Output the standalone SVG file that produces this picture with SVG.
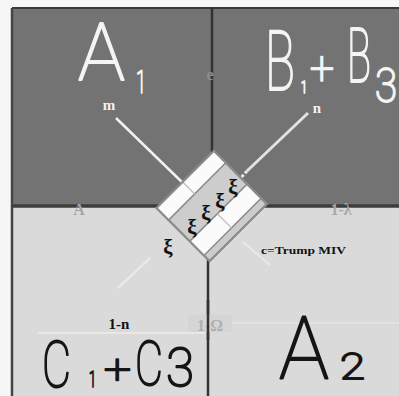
<svg xmlns="http://www.w3.org/2000/svg" width="399" height="396" viewBox="0 0 399 396">
<style>
.hw{font-family:Roboto,"Liberation Sans",sans-serif;font-weight:100;stroke-width:2;stroke-linejoin:round}
.hww{fill:#f4f4f4;stroke:#f4f4f4}
.hwb{fill:#151515;stroke:#151515}
.lbl{font-family:"Liberation Serif",serif;font-weight:bold}
.faint{font-family:"Liberation Serif",serif;font-weight:bold;font-size:16px}
.xi{font-family:"Liberation Serif",serif;font-weight:bold;font-size:21px;fill:#111;text-anchor:middle}
.bar{fill:#fbfbfb;stroke:#8a8a8a;stroke-width:1.5}
</style>
<rect width="399" height="396" fill="#f6f6f6"/>
<g id="top-region">
<rect x="12" y="8" width="387" height="198" fill="#737373"/>
<line x1="12" y1="8" x2="399" y2="8" stroke="#3a3a3a" stroke-width="2"/>
<line x1="212" y1="8" x2="212" y2="152" stroke="#333" stroke-width="2.5"/>
</g>
<g id="bottom-region">
<rect x="12" y="207" width="387" height="189" fill="#dadada"/>
<line x1="12" y1="206" x2="399" y2="206" stroke="#3d3d3d" stroke-width="3.5"/>
<line x1="208" y1="258" x2="208" y2="396" stroke="#333" stroke-width="2.5"/>
<line x1="38" y1="333" x2="205" y2="333" stroke="#ececec" stroke-width="1.5"/>
<line x1="215" y1="323" x2="399" y2="323" stroke="#e4e4e4" stroke-width="1.5"/>
</g>
<line x1="12" y1="8" x2="12" y2="396" stroke="#444" stroke-width="2.5"/>
<g id="faint-labels">
<text class="faint" x="210" y="80" fill="#8c8c8c" text-anchor="middle">e</text>
<text class="faint" x="79" y="215" fill="#a5a5a5" text-anchor="middle">A</text>
<text class="faint" x="341" y="215" fill="#a9a9a9" text-anchor="middle">1-λ</text>
<rect x="188" y="314" width="44" height="18" fill="#d5d5d5"/>
<text class="faint" x="210" y="331" fill="#b0b0b0" text-anchor="middle">1-Ω</text>
<line x1="208" y1="300" x2="208" y2="340" stroke="#333" stroke-width="2.5"/>
</g>
<g id="connectors">
<line x1="116" y1="118" x2="186" y2="186" stroke="#f2f2f2" stroke-width="2.5"/>
<line x1="308" y1="113" x2="247" y2="171" stroke="#e2e2e2" stroke-width="3"/>
<line x1="247" y1="171" x2="238" y2="181" stroke="#e8e8e8" stroke-width="3" stroke-dasharray="3 2"/>
<line x1="118" y1="288" x2="150" y2="258" stroke="#f4f4f4" stroke-width="2" opacity="0.7"/>
<line x1="270" y1="265" x2="243" y2="242" stroke="#f4f4f4" stroke-width="2" opacity="0.6"/>
</g>
<g id="diamond" transform="translate(211,206) rotate(-45)">
<rect x="-40" y="-37" width="81" height="75" fill="#cdcdcd" stroke="#8c8c8c" stroke-width="2"/>
<rect class="bar" x="-40" y="-37" width="81" height="17"/>
<rect class="bar" x="-40" y="10" width="81" height="20"/>
<line x1="-3" y1="-37" x2="-3" y2="-20" stroke="#bbb" stroke-width="1.2"/>
<line x1="-1" y1="10" x2="-1" y2="30" stroke="#bbb" stroke-width="1.2"/>
<rect x="-40" y="-37" width="81" height="75" fill="none" stroke="#8c8c8c" stroke-width="2"/>
</g>
<g id="xi-symbols">
<text class="xi" x="233" y="194">ξ</text>
<text class="xi" x="220" y="208">ξ</text>
<text class="xi" x="206" y="220">ξ</text>
<text class="xi" x="192" y="234">ξ</text>
<text class="xi" x="168" y="254">ξ</text>
</g>
<g id="labels">
<text class="lbl" x="109" y="110" font-size="15" fill="#f2f2f2" text-anchor="middle">m</text>
<text class="lbl" x="317" y="113" font-size="15" fill="#f2f2f2" text-anchor="middle">n</text>
<text class="lbl" x="119" y="329" font-size="15" fill="#111" text-anchor="middle">1-n</text>
<text class="lbl" x="261" y="254" font-size="11" fill="#111" textLength="85" lengthAdjust="spacingAndGlyphs">c=Trump MIV</text>
</g>
<g id="handwriting-top">
<text class="hw hww" x="78" y="80" font-size="80" textLength="47" lengthAdjust="spacingAndGlyphs">A</text>
<text class="hw hww" x="136" y="93" font-size="32" textLength="10" lengthAdjust="spacingAndGlyphs">1</text>
<text class="hw hww" x="265" y="90" font-size="84" textLength="30" lengthAdjust="spacingAndGlyphs">B</text>
<text class="hw hww" x="301" y="93" font-size="16" textLength="6" lengthAdjust="spacingAndGlyphs">1</text>
<text class="hw hww" x="310" y="84" font-size="46" textLength="24" lengthAdjust="spacingAndGlyphs">+</text>
<text class="hw hww" x="347" y="82" font-size="76" textLength="24" lengthAdjust="spacingAndGlyphs">B</text>
<text class="hw hww" x="375" y="102" font-size="48" textLength="22" lengthAdjust="spacingAndGlyphs">3</text>
</g>
<g id="handwriting-bottom">
<text class="hw hwb" x="42" y="387" font-size="64" textLength="29" lengthAdjust="spacingAndGlyphs">C</text>
<text class="hw hwb" x="89" y="387" font-size="22" textLength="7" lengthAdjust="spacingAndGlyphs">1</text>
<text class="hw hwb" x="104" y="383" font-size="40" textLength="27" lengthAdjust="spacingAndGlyphs">+</text>
<text class="hw hwb" x="135" y="385" font-size="62" textLength="28" lengthAdjust="spacingAndGlyphs">C</text>
<text class="hw hwb" x="166" y="386" font-size="54" textLength="28" lengthAdjust="spacingAndGlyphs">3</text>
<text class="hw hwb" x="279" y="379" font-size="88" textLength="50" lengthAdjust="spacingAndGlyphs">A</text>
<text class="hw hwb" x="340" y="379" font-size="36" textLength="25" lengthAdjust="spacingAndGlyphs">2</text>
</g>
</svg>
